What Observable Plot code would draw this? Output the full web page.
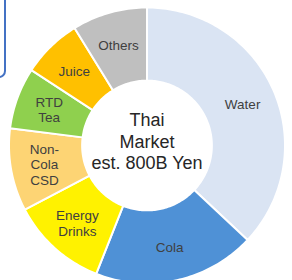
<!DOCTYPE html>
<html>
<head>
<meta charset="utf-8">
<script src="https://cdn.jsdelivr.net/npm/d3@7"></script>
<script src="https://cdn.jsdelivr.net/npm/@observablehq/plot@0.6"></script>
<style>
  html, body { margin: 0; padding: 0; background: #fff; overflow: hidden; }
  #wrap { position: relative; width: 292px; height: 280px; }
  #box { position: absolute; left: -30px; top: -20px; width: 32px; height: 94px;
         border: 2px solid #4472c4; border-radius: 7px; }
  #chart { position: absolute; left: 0; top: 0; }
</style>
</head>
<body>
<div id="wrap"><div id="chart"></div><div id="box"></div></div>
<script>
const categories = ["Water", "Cola", "Energy Drinks", "Non-Cola CSD", "RTD Tea", "Juice", "Others"];
const shares = [37, 19, 11.3, 9.7, 7.2, 7, 8.8];
const sliceLabels = ["Water", "Cola", "Energy\nDrinks", "Non-\nCola\nCSD", "RTD\nTea", "Juice", "Others"];
const colors = ["#dae4f3", "#4f91d6", "#fff200", "#fdd474", "#8fd04e", "#ffc000", "#bfbfbf"];
const centerText = ["Thai", "Market", "est. 800B Yen"];

const W = 292, H = 280, CX = 146.5, CY = 145, R = 138;
const inner = 0.47, labelR = 0.755;

const pie = d3.pie().sort(null).value(d => d.share)(categories.map((c, i) => ({cat: c, share: shares[i], i})));

function pt(r, a) { return {x: r * Math.sin(a), y: r * Math.cos(a)}; }

const marks = [];
pie.forEach(s => {
  const n = Math.max(8, Math.ceil((s.endAngle - s.startAngle) / 0.02));
  const pts = [];
  for (let k = 0; k <= n; k++) pts.push(pt(1, s.startAngle + (s.endAngle - s.startAngle) * k / n));
  for (let k = n; k >= 0; k--) pts.push(pt(inner, s.startAngle + (s.endAngle - s.startAngle) * k / n));
  pts.push(pts[0]);
  marks.push(Plot.line(pts, {x: "x", y: "y", fill: colors[s.data.i], stroke: "white", strokeWidth: 2, strokeLinejoin: "round"}));
});

const labelData = pie.map(s => {
  const m = (s.startAngle + s.endAngle) / 2;
  return {...pt(labelR, m), text: sliceLabels[s.data.i]};
});
marks.push(Plot.text(labelData, {x: "x", y: "y", text: "text", fontSize: 13.5, lineHeight: 1.15, fill: "#404040"}));
marks.push(Plot.text([{x: 0, y: 5 / R, text: centerText.join("\n")}], {x: "x", y: "y", text: "text", fontSize: 18, lineHeight: 1.22, fill: "#262626"}));

const chart = Plot.plot({
  width: W, height: H,
  marginTop: 0, marginRight: 0, marginBottom: 0, marginLeft: 0,
  style: {fontFamily: "'Liberation Sans', Arial, sans-serif", background: "transparent"},
  x: {domain: [-CX / R, (W - CX) / R], axis: null},
  y: {domain: [-(H - CY) / R, CY / R], axis: null},
  marks
});
document.getElementById("chart").appendChild(chart);
</script>
</body>
</html>
